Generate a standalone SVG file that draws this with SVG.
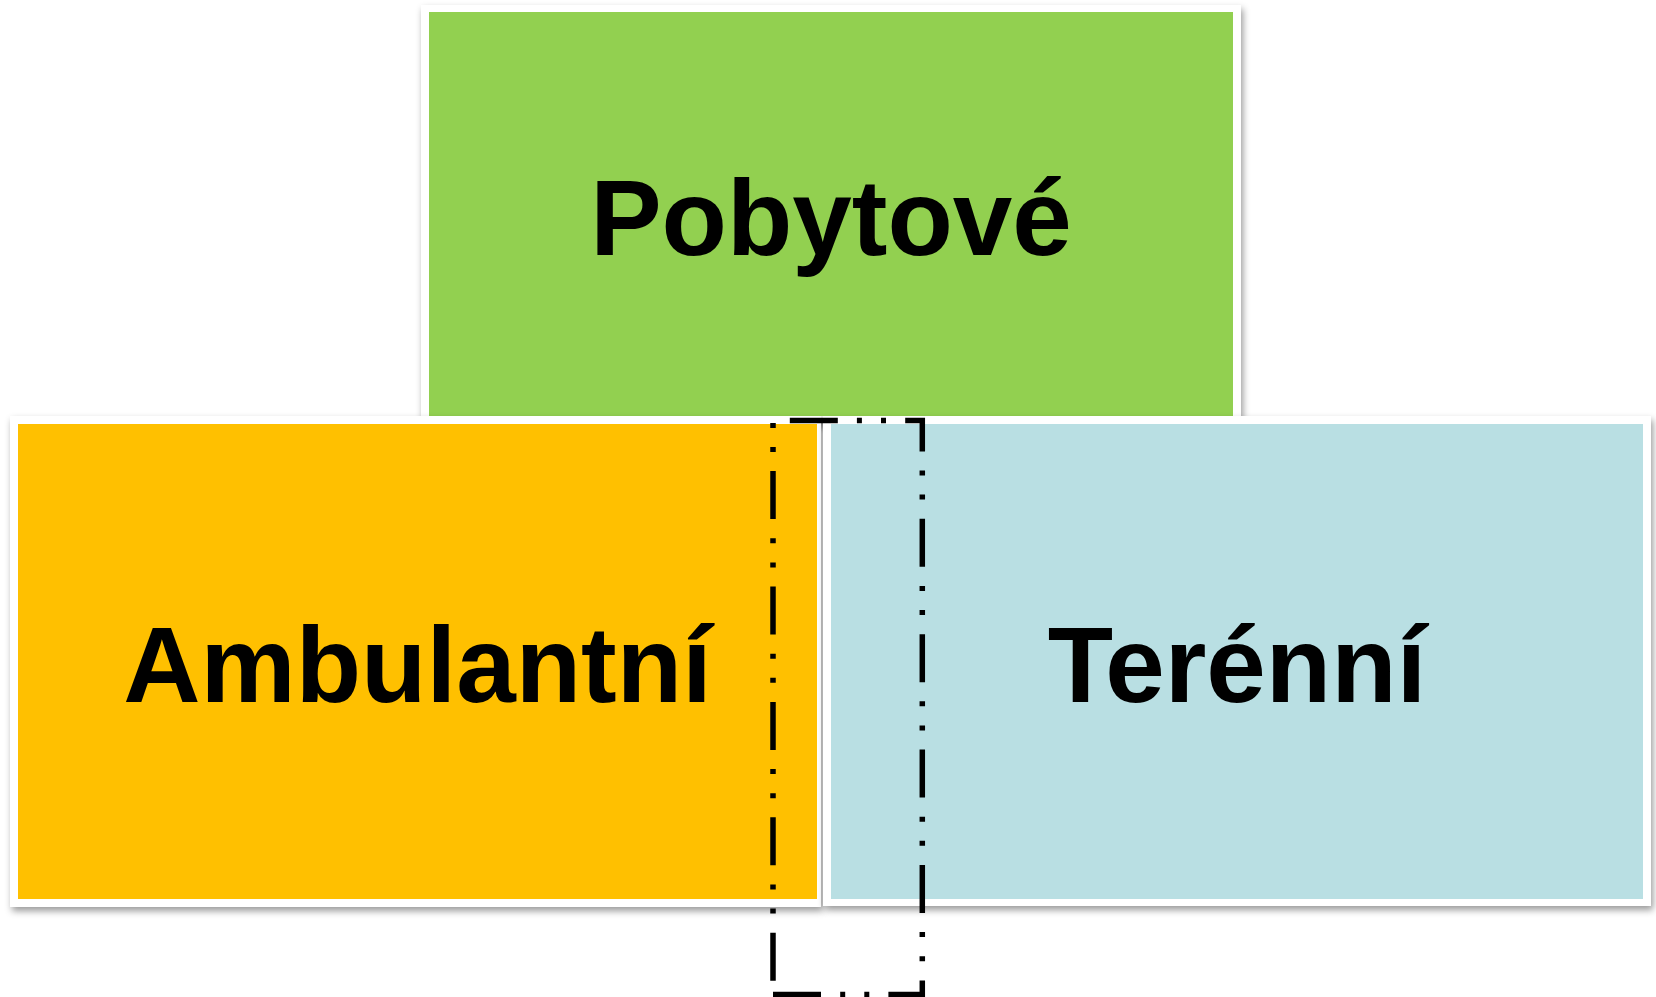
<svg xmlns="http://www.w3.org/2000/svg" width="1656" height="997" viewBox="0 0 1656 997">
  <defs>
    <filter id="shadow" x="-5%" y="-5%" width="110%" height="115%">
      <feDropShadow dx="2" dy="4" stdDeviation="3.5" flood-color="#000" flood-opacity="0.4"/>
    </filter>
  </defs>
  <style>
    .frame { fill: #ffffff; filter: url(#shadow); }
    .label { font-family: "Liberation Sans", Arial, sans-serif; font-weight: bold; font-size: 107px; fill: #000000; text-anchor: middle; }
    .dash { fill: none; stroke: #000000; stroke-width: 5.5; stroke-dasharray: 48 19.2 5 19.1 5 19.1; stroke-linejoin: miter; }
  </style>
  <rect width="1656" height="997" fill="#ffffff"/>
  <g id="pobytove">
    <rect class="frame" x="421" y="5" width="820" height="418"/>
    <rect x="429" y="12" width="804" height="404" fill="#92D050"/>
    <text class="label" x="831" y="255">Pobytové</text>
  </g>
  <g id="ambulantni">
    <rect class="frame" x="10" y="416" width="811" height="491"/>
    <rect x="18" y="424" width="799" height="475" fill="#FFC000"/>
    <text class="label" x="417.5" y="702">Ambulantní</text>
  </g>
  <g id="terenni">
    <rect class="frame" x="823" y="416" width="828" height="490"/>
    <rect x="831" y="424" width="812" height="475" fill="#B9DFE3"/>
    <text class="label" x="1237" y="702">Terénní</text>
  </g>
  <g id="connectors">
    <path class="dash" d="M773,994.5 H922.3 V420.5 H773 Z"/>
  </g>
</svg>
